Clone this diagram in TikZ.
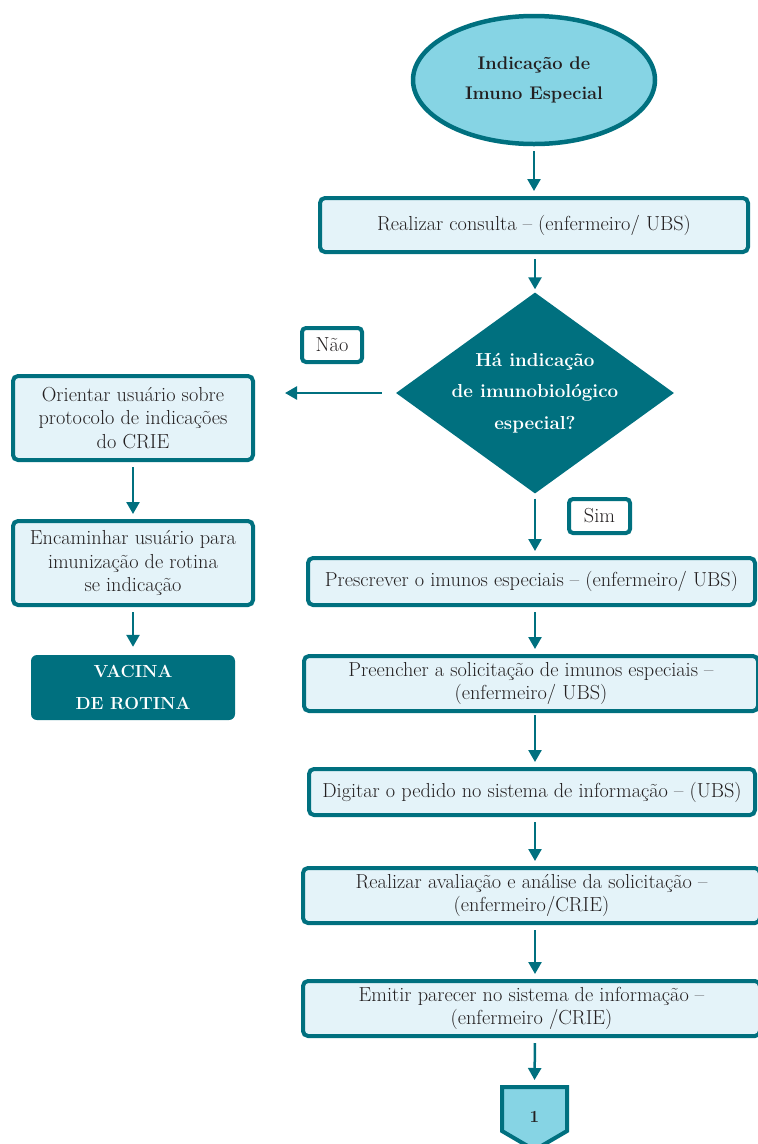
\documentclass[tikz,border=0pt]{standalone}
\usetikzlibrary{shapes.geometric,arrows.meta}
\definecolor{teal1}{HTML}{00707F}
\definecolor{boxfill}{HTML}{E4F3F9}
\definecolor{ellfill}{HTML}{86D4E4}
\definecolor{txt}{HTML}{231F20}
\tikzset{
  procbox/.style={draw=teal1, line width=4pt, fill=boxfill, rounded corners=5pt, align=center, text=txt, inner sep=0pt, font=\fontsize{20.3}{23.5}\selectfont},
  labbox/.style={draw=teal1, line width=4pt, fill=white, rounded corners=4pt, align=center, text=txt, inner sep=0pt, font=\fontsize{20.3}{22}\selectfont},
  darkbox/.style={fill=teal1, rounded corners=6pt, align=center, text=white, inner sep=0pt, font=\bfseries\fontsize{17.5}{32}\selectfont},
  flow/.style={draw=teal1, line width=2.5pt, -{Triangle[length=12pt,width=13pt]}, shorten <=5pt, shorten >=5pt},
}
\begin{document}
\begin{tikzpicture}[x=1pt,y=-1pt]
\useasboundingbox (0,0) rectangle (758,1144);
\begin{scope}
\clip (0,0) rectangle (758,1144);
% start ellipse
\node[ellipse, draw=teal1, line width=4.5pt, fill=ellfill, minimum width=242pt, minimum height=128pt, inner sep=0pt, align=center, text=txt, font=\bfseries\fontsize{18.3}{30}\selectfont] (start) at (534,80) {Indicação de\\Imuno Especial};
\node[procbox, minimum width=428pt, minimum height=54pt] (b1) at (534,225) {Realizar consulta -- (enfermeiro/ UBS)};
\node[diamond, fill=teal1, minimum width=278pt, minimum height=201pt, aspect=1.383, inner sep=0pt, align=center, text=white, font=\bfseries\fontsize{18.8}{31.5}\selectfont] (dec) at (535,393) {Há indicação\\de imunobiológico\\especial?};
\node[labbox, minimum width=60pt, minimum height=34pt] (nao) at (332,345) {Não};
\node[labbox, minimum width=61pt, minimum height=34pt] (sim) at (599.5,516) {Sim};
% left column
\node[procbox, minimum width=240pt, minimum height=84pt] (l1) at (133,418) {Orientar usuário sobre\\protocolo de indicações\\do CRIE};
\node[procbox, minimum width=240pt, minimum height=84pt] (l2) at (133,563) {Encaminhar usuário para\\imunização de rotina\\se indicação};
\node[darkbox, minimum width=204pt, minimum height=65pt] (vac) at (133,687.5) {VACINA\\DE ROTINA};
% right column
\node[procbox, minimum width=447pt, minimum height=47pt] (p1) at (531.5,581.5) {Prescrever o imunos especiais -- (enfermeiro/ UBS)};
\node[procbox, minimum width=454pt, minimum height=55pt] (p2) at (531,683.5) {Preencher a solicitação de imunos especiais --\\(enfermeiro/ UBS)};
\node[procbox, minimum width=446pt, minimum height=46pt] (p3) at (532,792) {Digitar o pedido no sistema de informação -- (UBS)};
\node[procbox, minimum width=457pt, minimum height=55pt] (p4) at (531.5,895.5) {Realizar avaliação e análise da solicitação --\\(enfermeiro/CRIE)};
\node[procbox, minimum width=457pt, minimum height=55pt] (p5) at (531.5,1008.5) {Emitir parecer no sistema de informação --\\(enfermeiro /CRIE)};
% off-page connector
\draw[draw=teal1, line width=4pt, fill=ellfill, line join=miter] (502,1087) -- (567,1087) -- (567,1131) -- (534.5,1150) -- (502,1131) -- cycle;
\coordinate (offtop) at (534.5,1085);
\node[text=txt, font=\bfseries\fontsize{17}{18}\selectfont] (one) at (534.5,1117) {1};
% connectors
\draw[flow] (start.south) -- (b1.north -| start.south);
\draw[flow, shorten >=3pt] (b1.south -| dec.north) -- (dec.north);
\draw[flow, shorten <=14pt, shorten >=30pt] (dec.west) -- (l1.east |- dec.west);
\draw[flow] (l1.south) -- (l2.south |- l2.north);
\draw[flow, shorten >=8pt] (l2.south) -- (vac.north);
\draw[flow] (dec.south) -- (p1.north -| dec.south);
\draw[flow] (p1.south -| dec.south) -- (p2.north -| dec.south);
\draw[flow, shorten <=2pt] (p2.south -| dec.south) -- (p3.north -| dec.south);
\draw[flow] (p3.south -| dec.south) -- (p4.north -| dec.south);
\draw[flow] (p4.south -| dec.south) -- (p5.north -| dec.south);
\draw[flow] (p5.south -| dec.south) -- (offtop);
\end{scope}
\end{tikzpicture}
\end{document}
